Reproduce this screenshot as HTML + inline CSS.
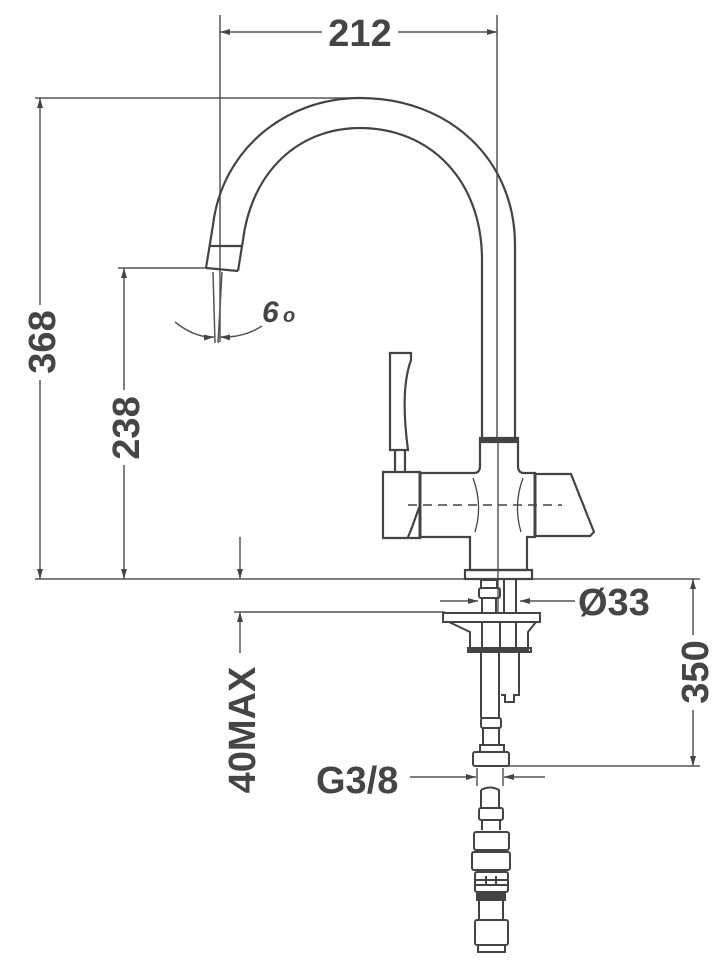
<!DOCTYPE html>
<html><head><meta charset="utf-8"><style>html,body{margin:0;padding:0;background:#fff}svg{display:block}
text{font-family:"Liberation Sans Narrow","Liberation Sans",sans-serif;font-weight:bold;fill:#454545}</style></head>
<body>
<svg width="724" height="967" viewBox="0 0 724 967" xmlns="http://www.w3.org/2000/svg">
<defs>
<marker id="a" viewBox="0 0 10 6" refX="10" refY="3" markerWidth="10" markerHeight="6" orient="auto-start-reverse" markerUnits="userSpaceOnUse"><path d="M0,0L10,3L0,6z" fill="#454545"/></marker>
</defs>
<g stroke="#555" stroke-width="1.5" fill="none">
<!-- extension lines -->
<line x1="220" y1="15" x2="220" y2="342"/>
<line x1="497" y1="15" x2="497" y2="440"/>
<line x1="35" y1="98" x2="360" y2="98"/>
<line x1="35" y1="579" x2="700" y2="579"/>
<line x1="118" y1="268" x2="207" y2="268"/>
<line x1="234" y1="612" x2="445" y2="612"/>
<line x1="505" y1="766" x2="700" y2="766"/>
<!-- dims -->
<line x1="220" y1="32" x2="322" y2="32" marker-start="url(#a)"/>
<line x1="398" y1="32" x2="497" y2="32" marker-end="url(#a)"/>
<line x1="40" y1="98" x2="40" y2="305" marker-start="url(#a)"/>
<line x1="40" y1="380" x2="40" y2="579" marker-end="url(#a)"/>
<line x1="124" y1="268" x2="124" y2="390" marker-start="url(#a)"/>
<line x1="124" y1="465" x2="124" y2="579" marker-end="url(#a)"/>
<line x1="240" y1="537" x2="240" y2="579" marker-end="url(#a)"/>
<line x1="240" y1="653" x2="240" y2="612" marker-end="url(#a)"/>
<line x1="693" y1="579" x2="693" y2="635" marker-start="url(#a)"/>
<line x1="693" y1="710" x2="693" y2="766" marker-end="url(#a)"/>
<line x1="440" y1="601" x2="478" y2="601" marker-end="url(#a)"/>
<line x1="575" y1="601" x2="520" y2="601" marker-end="url(#a)"/>
<line x1="410" y1="777" x2="476" y2="777" marker-end="url(#a)"/>
<line x1="545" y1="777" x2="504" y2="777" marker-end="url(#a)"/>
<line x1="477" y1="768" x2="477" y2="786"/><line x1="503" y1="768" x2="503" y2="786"/>
<!-- angle -->
<line x1="213" y1="272" x2="215" y2="343"/><line x1="222" y1="272" x2="218" y2="343"/>
<path d="M175,322 Q195,338 214,337" marker-end="url(#a)"/>
<path d="M262,326 Q243,338 220,337" marker-end="url(#a)"/>
</g>
<g stroke="#444" stroke-width="2.2" fill="none">
<!-- spout -->
<path d="M206,268 L213,225 C222,150 285,98 360,98 C450,98 515,160 515,245 L515,438"/>
<path d="M238,271 L243,240 C252,170 300,128 360,128 C430,128 482,180 482,260 L482,438"/>
<line x1="210" y1="246" x2="241" y2="246"/>
<path d="M206,268 L238,271"/>
<!-- body -->
<rect x="480" y="438" width="38" height="4" fill="#444"/>
<path d="M480,442 L480,466 Q480,473 474,473 L420,473 L420,537 L470,537 L470,570 L527,570 L527,537 L535,537 L535,473 L524,473 Q518,473 518,466 L518,442"/>
<path d="M535,474 L571,474 L594,532 L590,536 L535,536"/>
<line x1="535" y1="473" x2="535" y2="537" stroke-width="3"/>
<line x1="420" y1="473" x2="420" y2="537" stroke-width="3"/>
<path d="M383,472 L420,472 L420,538 L383,538 Z"/>
<path d="M420,505 L411,530 L408,537"/>
<path d="M390,353 L411,353 L411,360 Q400,390 408,450 L390,450 Z"/>
<path d="M395,450 L395,472 M405,450 L405,472"/>
<path d="M473,478 Q483,505 475,532 M523,478 Q513,505 521,532" stroke-width="1.3"/>
<rect x="465" y="570" width="67" height="9"/>
</g>
<line x1="408" y1="505" x2="562" y2="505" stroke="#444" stroke-width="1.5" stroke-dasharray="9,6"/>
<line x1="498" y1="438" x2="498" y2="612" stroke="#444" stroke-width="1.3"/>
<g stroke="#444" stroke-width="2" fill="none">
<!-- under counter -->
<rect x="481" y="580" width="16" height="8"/>
<rect x="479" y="588" width="21" height="10" rx="2"/>
<path d="M482,598 L482,613 M496,598 L496,613 M504,580 L504,613 M516,580 L516,613"/>
<rect x="443" y="613" width="97" height="9"/>
<path d="M449,622 L470,632 L470,650 L528,650 L528,632 L536,622"/>
<path d="M482,622 L482,650 M500,622 L500,650 M516,622 L516,650"/>
<rect x="468" y="648" width="63" height="4"/>
<path d="M481,652 L481,718 M499,652 L499,718"/>
<path d="M499,652 L519,652 L519,695 L514,695 L514,702 L505,702 L505,695 L501,695"/>
<rect x="481" y="718" width="20" height="10" rx="2"/>
<path d="M483,728 L483,745 M499,728 L499,745"/>
<rect x="480" y="745" width="24" height="7"/>
<rect x="473" y="752" width="36" height="14" rx="2"/>
<!-- lower hose -->
<path d="M481,790 Q490,785 499,790 L499,808 M481,790 L481,808"/>
<rect x="479" y="808" width="24" height="12" rx="2"/>
<path d="M482,820 L482,830 M500,820 L500,830"/>
<rect x="474" y="832" width="35" height="18" rx="2"/>
<rect x="472" y="852" width="38" height="18" rx="2"/>
<rect x="475" y="872" width="33" height="20" rx="2"/>
<path d="M475,880 L508,880 M475,885 L508,885 M486,876 L486,884 M496,876 L496,884"/>
<rect x="477" y="892" width="28" height="8" fill="#444"/>
<path d="M479,900 L479,920 M503,900 L503,920"/>
<rect x="475" y="920" width="33" height="25" rx="2"/>
<rect x="478" y="945" width="27" height="7"/>
</g>
<!-- labels -->
<text x="360" y="46" font-size="38" text-anchor="middle">212</text>
<text transform="translate(55,342) rotate(-90)" font-size="38" text-anchor="middle">368</text>
<text transform="translate(139,428) rotate(-90)" font-size="38" text-anchor="middle">238</text>
<text transform="translate(255,730) rotate(-90)" font-size="38" text-anchor="middle">40MAX</text>
<text transform="translate(708,672) rotate(-90)" font-size="38" text-anchor="middle">350</text>
<text x="578" y="615" font-size="38">Ø33</text>
<text x="316" y="793" font-size="38">G3/8</text>
<text x="262" y="322" font-size="30" font-style="italic">6</text>
<text x="283" y="322" font-size="20" font-style="italic">o</text>
</svg>
</body></html>
